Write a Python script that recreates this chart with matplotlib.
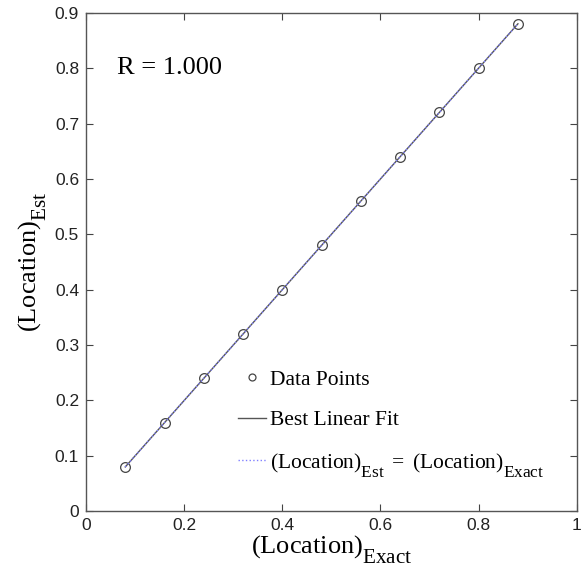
import numpy as np
import matplotlib.pyplot as plt
from matplotlib import _mathtext

# larger, lower subscripts, closer to the Times look of the original figure
_mathtext.SHRINK_FACTOR = 0.8
_mathtext.FontConstantsBase.sub1 = 0.9
_mathtext.FontConstantsBase.sub2 = 0.9

plt.rcParams['mathtext.fontset'] = 'custom'
plt.rcParams['mathtext.rm'] = 'Liberation Serif'
plt.rcParams['mathtext.it'] = 'Liberation Serif:italic'

loc_exact = [0.08, 0.16, 0.24, 0.32, 0.40, 0.48, 0.56, 0.64, 0.72, 0.80, 0.88]
loc_est = [0.08, 0.16, 0.24, 0.32, 0.40, 0.48, 0.56, 0.64, 0.72, 0.80, 0.88]
r_value = 1.000

x = np.array(loc_exact)
y = np.array(loc_est)
slope, icpt = np.polyfit(x, y, 1)

fig = plt.figure(figsize=(5.85, 5.79), dpi=100)
ax = fig.add_axes([0.147, 0.117, 0.839, 0.861])

ax.plot(x, y, 'o', mfc='none', mec='#444444', ms=7, mew=0.9, label='Data Points')
ax.plot(x, slope * x + icpt, '-', color='#555555', lw=1.0, label='Best Linear Fit')
ax.plot(x, x, ':', color='#8080ff', lw=1.0,
        label=r'$\mathrm{(Location)_{Est}\ {=}\ (Location)_{Exact}}$')

ax.set_xlim(0, 1)
ax.set_ylim(0, 0.9)
ax.set_xticks(np.arange(0, 1.01, 0.2))
ax.set_yticks(np.arange(0, 0.91, 0.1))
ax.set_xticklabels(['0', '0.2', '0.4', '0.6', '0.8', '1'])
ax.set_yticklabels(['0', '0.1', '0.2', '0.3', '0.4', '0.5', '0.6', '0.7', '0.8', '0.9'])
ax.tick_params(direction='in', top=True, right=True, length=5, width=0.8,
               labelsize=12.5, colors='#444444', labelcolor='#222222', pad=5)
for lab in ax.get_xticklabels() + ax.get_yticklabels():
    lab.set_family('Liberation Sans')
for s in ax.spines.values():
    s.set_color('#555555')
    s.set_linewidth(1.0)

ax.set_xlabel(r'$\mathrm{(Location)_{Exact}}$', fontsize=19, labelpad=0)
ax.set_ylabel(r'$\mathrm{(Location)_{Est}}$', fontsize=19, labelpad=4)

ax.text(0.063, 0.80, 'R = %.3f' % r_value, family='Liberation Serif',
        fontsize=19, va='center', ha='left')

leg = ax.legend(loc='lower left', bbox_to_anchor=(0.31, 0.065), frameon=False,
                prop={'family': 'Liberation Serif', 'size': 15.5},
                handlelength=1.3, handletextpad=0.2, labelspacing=0.95,
                borderpad=0, borderaxespad=0)
leg.legend_handles[0].set_markersize(5)

fig.savefig('out.png', dpi=100)
